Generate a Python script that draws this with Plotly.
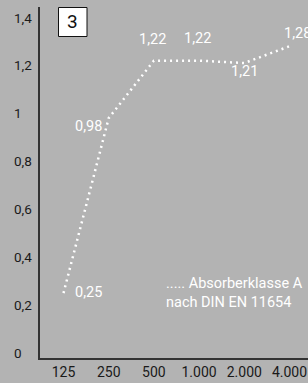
import plotly.graph_objects as go

frequencies = ["125", "250", "500", "1.000", "2.000", "4.000"]
absorption = [0.25, 0.98, 1.22, 1.22, 1.21, 1.28]
value_labels = ["0,25", "0,98", "1,22", "1,22", "1,21", "1,28"]
y_tick_vals = [0, 0.2, 0.4, 0.6, 0.8, 1.0, 1.2, 1.4]
y_tick_text = ["0", "0,2", "0,4", "0,6", "0,8", "1", "1,2", "1,4"]
legend_text = "..... Absorberklasse A<br>nach DIN EN 11654"
panel_number = "3"

BG = "#b3b3b3"
W, H = 308, 383
L, R, T, B = 40, 0, 7, 25
plot_w = W - L - R
plot_h = H - T - B

def px_x(px):
    return (px - L) / plot_w

def px_y(py):
    return (H - B - py) / plot_h

x_idx = list(range(len(frequencies)))

fig = go.Figure()
fig.add_trace(go.Scatter(
    x=x_idx, y=absorption, mode="lines",
    line=dict(color="white", width=2.5, dash="2px,4px"),
    hoverinfo="skip", showlegend=False,
))

# value labels: (xanchor, yanchor, xshift, yshift)
label_style = [
    ("left", "middle", 9, 1),
    ("right", "middle", -5, -8),
    ("center", "middle", -1, 21),
    ("center", "middle", -2, 22),
    ("center", "middle", 0, -8),
    ("left", "middle", -7, 13),
]
for i, v, t, (xa, ya, xs, ys) in zip(x_idx, absorption, value_labels, label_style):
    fig.add_annotation(x=i, y=v, xref="x", yref="y", text=t, showarrow=False,
                       xanchor=xa, yanchor=ya, xshift=xs, yshift=ys,
                       font=dict(family="Roboto", size=14.5, color="white"))

# y tick labels (left aligned)
for v, t in zip(y_tick_vals, y_tick_text):
    fig.add_annotation(x=px_x(12), y=v, xref="paper", yref="y", text=t,
                       showarrow=False, xanchor="left", yanchor="middle",
                       font=dict(family="Roboto", size=13.5, color="#1a1a1a"))

# legend text
fig.add_annotation(x=px_x(164), y=px_y(292.5), xref="paper", yref="paper",
                   text=legend_text, showarrow=False, xanchor="left", yanchor="middle",
                   align="left", font=dict(family="Roboto", size=14.5, color="white"))

# panel number box
fig.add_shape(type="rect", xref="paper", yref="paper",
              x0=px_x(58.5), x1=px_x(87), y0=px_y(36.5), y1=px_y(7.5),
              fillcolor="white", line=dict(color="#111111", width=1))
fig.add_annotation(x=px_x(72.5), y=px_y(22), xref="paper", yref="paper",
                   text=panel_number, showarrow=False, xanchor="center", yanchor="middle",
                   font=dict(family="Roboto", size=19, color="#111111"))

fig.update_layout(
    width=W, height=H,
    margin=dict(l=L, r=R, t=T, b=B, pad=0),
    paper_bgcolor=BG, plot_bgcolor=BG,
    showlegend=False,
)
fig.update_xaxes(
    range=[-0.52, 5.41],
    tickvals=x_idx, ticktext=frequencies,
    showgrid=False, zeroline=False,
    showline=True, linecolor="#333333", linewidth=1.5,
    ticks="", ticklen=0, tickfont=dict(family="Roboto", size=14, color="#1a1a1a"),
    ticklabelstandoff=0,
)
fig.update_yaxes(
    range=[-0.0209, 1.4438],
    showgrid=False, zeroline=False,
    showline=True, linecolor="#333333", linewidth=1.5,
    ticks="", showticklabels=False,
    tickvals=y_tick_vals,
)

fig.write_html("out.html", config={"displayModeBar": False},
               post_script="document.body.style.margin='0';")
